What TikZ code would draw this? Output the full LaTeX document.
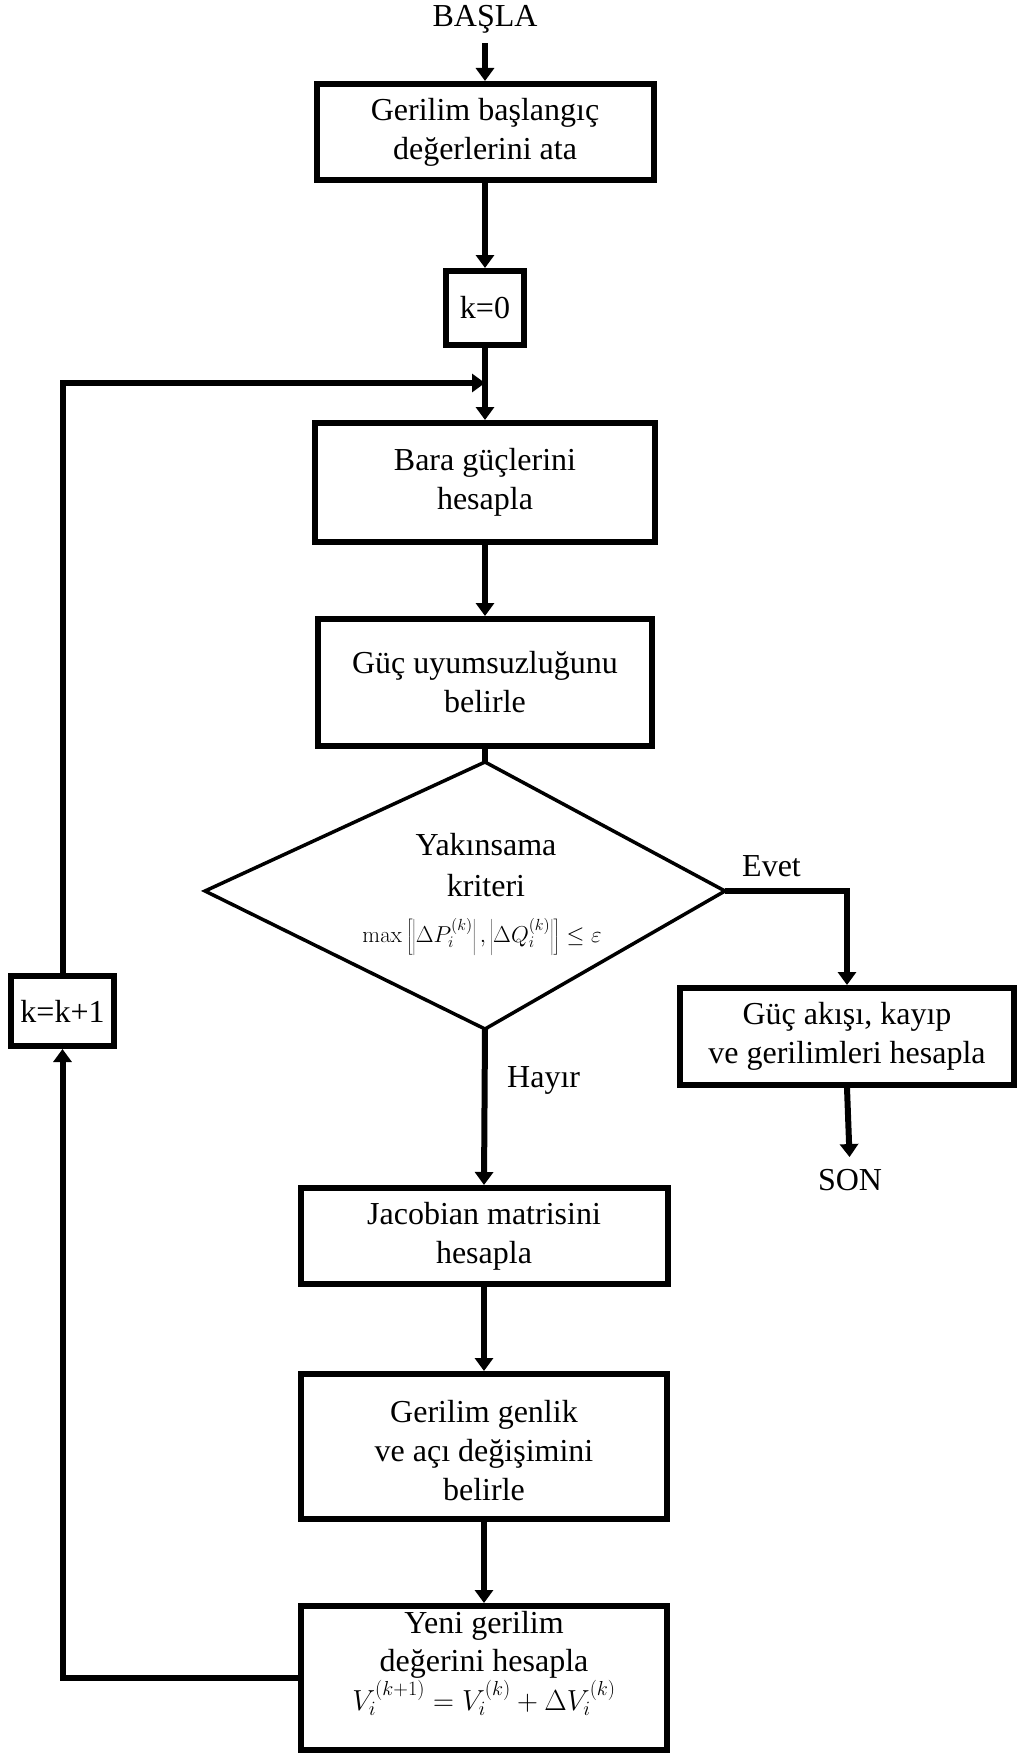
\RequirePackage{fix-cm}
\documentclass[tikz,border=0pt]{standalone}
\usepackage[no-math]{fontspec}
\setmainfont{Liberation Serif}
\usetikzlibrary{arrows.meta}
\begin{document}
\begin{tikzpicture}[x=1pt,y=-1pt,
  txtfont/.style={font=\fontsize{32}{39}\selectfont},
  mathfont/.style={font=\fontsize{23}{27}\selectfont},
  box/.style={draw, line width=6pt, inner sep=0pt, align=center, txtfont},
  lbl/.style={inner sep=0pt, txtfont},
  conn/.style={line width=6pt},
  arr/.style={conn, -{Triangle[width=18pt,length=13pt]}},
  dia/.style={line width=3.5pt, line join=miter}]

\useasboundingbox (0,0) rectangle (1017,1755);
\fill[white] (0,0) rectangle (1017,1755);

% main column
\node[lbl] (start) at (485,19) {BAŞLA};
\node[box, minimum width=337pt, minimum height=96pt] (init) at (485,132)
  {Gerilim başlangıç\\değerlerini ata};
\node[box, minimum width=78pt, minimum height=74pt] (k0) at (485,308) {k=0};
\coordinate (join) at (485,383);
\node[box, minimum width=340pt, minimum height=119pt] (bara) at (485,482.5)
  {Bara güçlerini\\hesapla};
\node[box, minimum width=334pt, minimum height=127pt] (mism) at (485,682.5)
  {Güç uyumsuzluğunu\\belirle};

% convergence test
\coordinate (dtop) at (485,762);
\coordinate (dbot) at (485,1029);
\coordinate (dleft) at (205,891);
\coordinate (dright) at (725,891);
\draw[dia] (dtop) -- (dright) -- (dbot) -- (dleft) -- cycle;
\node[align=center, inner sep=0pt, font=\fontsize{32}{41}\selectfont] (crit) at (486,865)
  {Yakınsama\\kriteri};
\node[inner sep=0pt, mathfont] (critf) at (482,937)
  {$\max\left[\left|\Delta P_i^{(k)}\right|,\left|\Delta Q_i^{(k)}\right|\right]\le\varepsilon$};

% exit branch
\node[box, minimum width=334pt, minimum height=97pt] (akis) at (847,1036.5)
  {Güç akışı, kayıp\\ve gerilimleri hesapla};
\node[lbl] (son) at (850,1180) {SON};
\node[lbl, anchor=west] (yes) at (742,866) {Evet};
\node[lbl, anchor=west] (no) at (507,1080) {Hayır};

% update branch
\node[box, minimum width=367pt, minimum height=96pt] (jac) at (484,1236)
  {Jacobian matrisini\\hesapla};
\node[box, minimum width=366pt, minimum height=145pt] (gen) at (484,1446.5)
  {\rule{0pt}{31pt}Gerilim genlik\\ve açı değişimini\\belirle};
\node[box, minimum width=366pt, minimum height=144pt] (yeni) at (484,1678) {};
\node[align=center, inner sep=0pt, anchor=north, font=\fontsize{32}{38}\selectfont] (yenit) at (484,1611)
  {Yeni gerilim\\değerini hesapla};
\node[inner sep=0pt, font=\fontsize{29}{34}\selectfont] (yenif) at (484,1698)
  {$V_i^{(k+1)}=V_i^{(k)}+\Delta V_i^{(k)}$};

\node[box, minimum width=103pt, minimum height=70pt] (kk) at (62.5,1011) {k=k+1};

% connectors
\draw[arr, shorten <=10pt] (start.south) -- (init.north);
\draw[arr] (init) -- (k0);
\draw[arr] (k0) -- (bara);
\draw[arr] (kk.north) |- (join);
\draw[arr] (bara) -- (mism);
\draw[conn] (mism.south) -- (dtop);
\draw[arr] (dright) -| (akis.north);
\draw[arr, shorten >=12pt] (akis.south) -- (son.north);
\draw[arr] (dbot) -- (jac.north);
\draw[arr] (jac) -- (gen);
\draw[arr] (gen) -- (yeni);
\draw[arr] (yeni.west) -| (kk.south);
\end{tikzpicture}
\end{document}
